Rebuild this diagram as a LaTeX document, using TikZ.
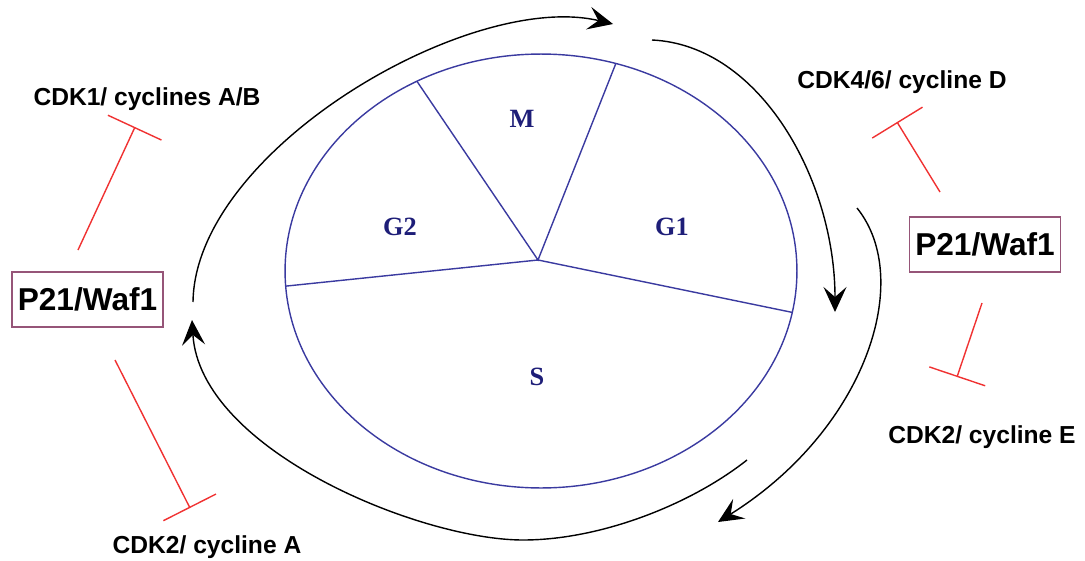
\documentclass[tikz,border=0pt]{standalone}
\usepackage{fontspec}
\setmainfont{Liberation Sans}
\newfontfamily\phfont{Liberation Serif}
\usetikzlibrary{arrows.meta,calc}

\definecolor{cycblue}{RGB}{58,58,160}
\definecolor{phnavy}{RGB}{30,30,120}
\definecolor{inhred}{RGB}{240,50,50}
\definecolor{boxpurple}{RGB}{150,85,120}

\begin{document}
\begin{tikzpicture}[x=0.02cm,y=-0.02cm,
  cyc/.style={line width=0.8pt,black,-{Stealth[length=5mm,width=4.6mm,inset=2mm]}},
  inhib/.style={line width=0.8pt,inhred,-{Bar[width=11.8mm,line width=0.8pt]}},
  lab/.style={font=\fontsize{14}{16}\bfseries\selectfont,anchor=base},
  phlab/.style={font=\phfont\fontsize{15}{17}\bfseries\selectfont,text=phnavy},
  pbox/.style={draw=boxpurple,line width=0.8pt,minimum width=3.02cm,minimum height=1.1cm,inner sep=0pt,font=\fontsize{18}{20}\bfseries\selectfont}]
\useasboundingbox (0,0) rectangle (1085,561);
%\draw[help lines] (0,0) grid[step=50] (1085,561);
\coordinate (C) at (541,271);   % centre of the cycle
\coordinate (H) at (538,260);   % hub of the spokes
\coordinate (Stl) at ($(C)+(241:256 and 217)$);
\coordinate (Str) at ($(C)+(-73:256 and 217)$);
\coordinate (Sl) at ($(C)+(176:256 and 217)$);
\coordinate (Sr) at ($(C)+(11:256 and 217)$);
%
\draw[cycblue,line width=0.8pt] (C) ellipse [x radius=5.12cm,y radius=4.34cm];
\draw[cycblue,line width=0.8pt] (Stl)--(H)--(Str) (Sl)--(H)--(Sr);
\node[phlab] (M) at (522,119) {M};
\node[phlab] (G2) at (400,227) {G2};
\node[phlab] (G1) at (672,227) {G1};
\node[phlab] (S) at (537,377) {S};
%
\coordinate (A1s) at (193,302);
\coordinate (A1e) at (613,24);
\coordinate (A2s) at (652,40);
\coordinate (A2e) at (835,312);
\coordinate (A3s) at (857,208);
\coordinate (A3e) at (718,522);
\coordinate (A4s) at (747,460);
\coordinate (A4m) at (523,540);
\coordinate (A4e) at (192,320);
\draw[cyc] (A1s) .. controls (195,150) and (470,-10) .. (A1e);
\draw[cyc] (A2s) .. controls (760,45) and (835,180) .. (A2e);
\draw[cyc] (A3s) .. controls (915,280) and (865,430) .. (A3e);
\draw[cyc] (A4s) .. controls (690,505) and (600,540) .. (A4m)
  .. controls (420,540) and (200,450) .. (A4e);
%
\node[pbox] (P21L) at (87.5,299.5) {P21/Waf1};
\node[pbox] (P21R) at (985,244.5) {P21/Waf1};
\node[lab] (CDK1) at (147,105) {CDK1/ cyclines A/B};
\node[lab] (CDK46) at (902,88) {CDK4/6/ cycline D};
\node[lab] (CDK2E) at (982,443) {CDK2/ cycline E};
\node[lab] (CDK2A) at (207,553) {CDK2/ cycline A};
%
\coordinate (I1s) at (78,250);  \coordinate (I1e) at (135,127);
\coordinate (I2s) at (115,360); \coordinate (I2e) at (190,508);
\coordinate (I3s) at (940,192); \coordinate (I3e) at (897,122);
\coordinate (I4s) at (982,303); \coordinate (I4e) at (957,377);
\draw[inhib] (I1s)--(I1e);
\draw[inhib] (I2s)--(I2e);
\draw[inhib] (I3s)--(I3e);
\draw[inhib] (I4s)--(I4e);
\end{tikzpicture}
\end{document}
